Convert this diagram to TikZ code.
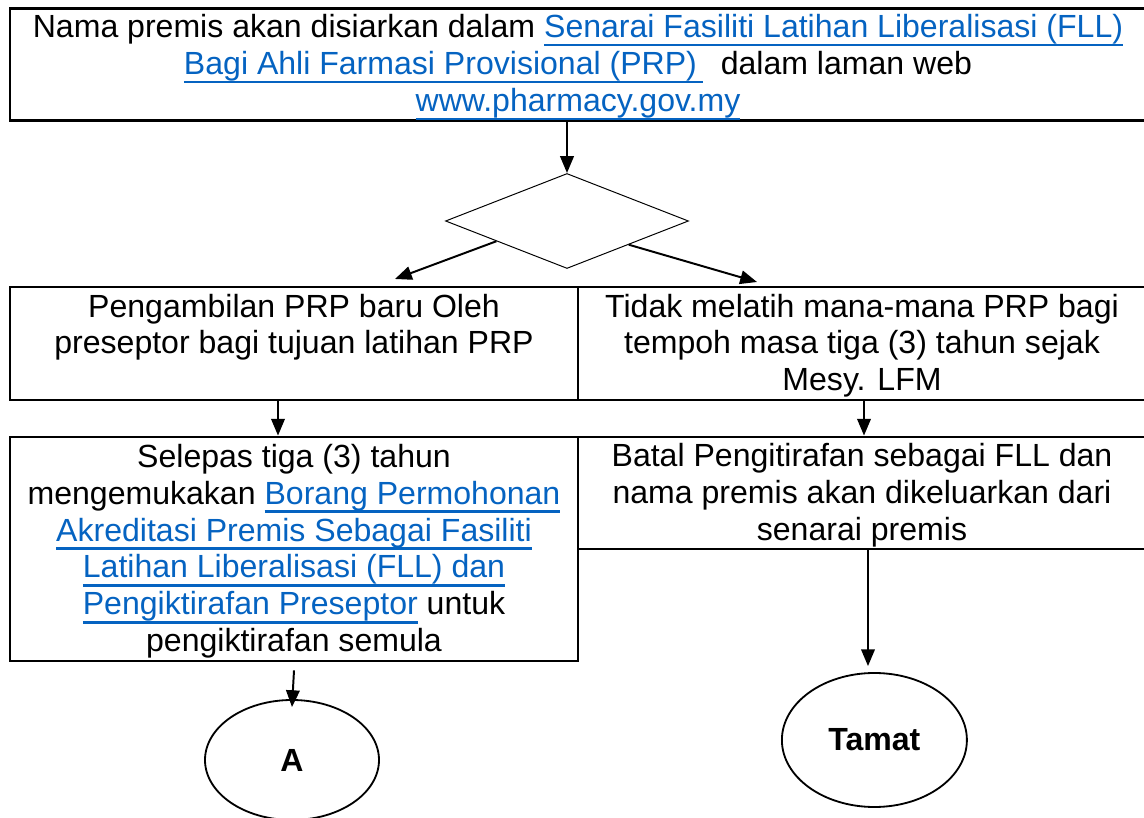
\documentclass[tikz,border=0pt]{standalone}
\usepackage{fontspec}
\setmainfont{Liberation Sans}
\usepackage{tikz}
\usetikzlibrary{%
  arrows,%
  arrows.meta,%
  shapes,% wg. diamond, ellipse
  positioning,%
  calc
}
\definecolor{linkblue}{RGB}{5,99,193}
\newcommand{\weblink}[1]{\textcolor{linkblue}{\setbox0\hbox{#1}\rlap{\rule[-0.215cm]{\wd0}{0.055cm}}\box0}}
% Word-like line boxes: ascent of first line, descent of last line
\newcommand{\atas}{\rule{0pt}{0.725cm}}
\newcommand{\bawah}{\rule[-0.2cm]{0pt}{0.2cm}}

\begin{document}
\begin{tikzpicture}[>={Triangle[length=0.42cm,width=0.34cm]},
  every node/.style={font=\fontsize{22.8}{26.3}\selectfont},
  cell/.style={draw, rectangle, line width=2pt, align=center, inner sep=0pt},
  arr/.style={->, line width=1.4pt}]
\useasboundingbox (0,0) rectangle (28.6,-20.45);

%Announcement box and decision diamond
\node[cell, minimum width=28.4cm, minimum height=2.775cm] (senarai) at (14.45,-1.6125) {\atas Nama premis akan disiarkan dalam \weblink{Senarai Fasiliti Latihan Liberalisasi (FLL)}\\\weblink{Bagi Ahli Farmasi Provisional (PRP)\hspace{0.15cm}}\ \ dalam laman web\\\weblink{www.pharmacy.gov.my}\bawah};
\node[draw, diamond, line width=0.7pt, minimum width=6.075cm, minimum height=2.375cm, inner sep=0pt] (keputusan) at (14.175,-5.525) {};
\draw[arr] (keputusan.north |- senarai.south) -- (keputusan.north);

% Two branches of the decision
\node[cell, minimum width=14.2cm, minimum height=2.825cm] (ambil) at (7.35,-8.5875) {\atas Pengambilan PRP baru Oleh\\preseptor bagi tujuan latihan PRP\\\bawah};
\node[cell, minimum width=14.2cm, minimum height=2.825cm] (tidak) at (21.55,-8.5875) {\atas Tidak melatih mana-mana PRP bagi\\tempoh masa tiga (3) tahun sejak\\Mesy. LFM\bawah};
\coordinate (kiri) at (9.875,-6.975);
\coordinate (kanan) at (18.925,-7.05);
\draw[arr] (keputusan.-164) -- (kiri);
\draw[arr] (keputusan.-21) -- (kanan);

% Next step in each branch
\node[cell, minimum width=14.2cm, minimum height=5.6cm] (selepas) at (7.35,-13.725) {\atas Selepas tiga (3) tahun\\mengemukakan \weblink{Borang Permohonan}\\\weblink{Akreditasi Premis Sebagai Fasiliti}\\\weblink{Latihan Liberalisasi (FLL) dan}\\\weblink{Pengiktirafan Preseptor} untuk\\pengiktirafan semula\bawah};
\node[cell, minimum width=14.2cm, minimum height=2.8cm] (batal) at (21.55,-12.325) {\atas Batal Pengitirafan sebagai FLL dan\\nama premis akan dikeluarkan dari\\senarai premis\bawah};
\draw[arr] ($(ambil.south)+(-0.4,0)$) -- ($(selepas.north)+(-0.4,0)$);
\draw[arr] ($(tidak.south)+(0.05,0)$) -- ($(batal.north)+(0.05,0)$);

% Connector A and end
\node[draw, ellipse, line width=1.3pt, minimum width=4.35cm, minimum height=3cm, font=\fontsize{22.8}{26.3}\selectfont\bfseries] (A) at (7.3,-19.0) {A};
\node[draw, ellipse, line width=1.3pt, minimum width=4.625cm, minimum height=3.35cm, font=\fontsize{22.8}{26.3}\selectfont\bfseries] (tamat) at (21.86,-18.5) {Tamat};
\draw[arr] ($(selepas.south)+(0,-0.2)$) -- ($(A.north)+(0,-0.2)$);
\coordinate (batalout) at ($(batal.south)+(0.15,0)$);
\draw[arr, shorten >=0.15cm] (batalout) -- (batalout |- tamat.north);
\end{tikzpicture}
\end{document}
